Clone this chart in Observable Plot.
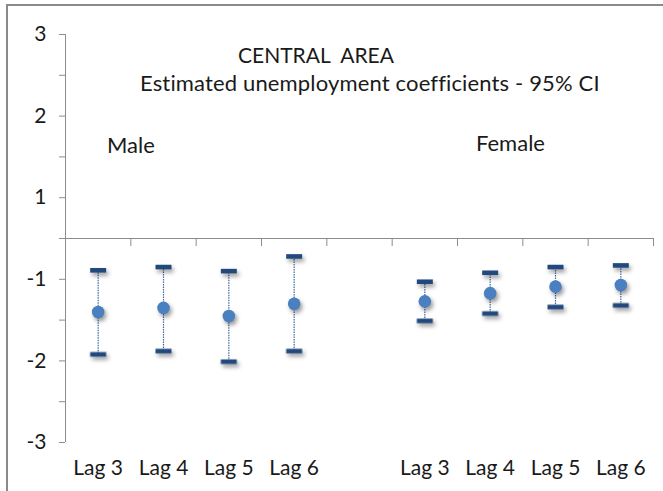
<!DOCTYPE html>
<html>
<head>
<meta charset="utf-8">
<script src="https://cdn.jsdelivr.net/npm/d3@7"></script>
<script src="https://cdn.jsdelivr.net/npm/@observablehq/plot@0.6"></script>
<style>
  html, body { margin: 0; padding: 0; background: #fff; }
  #wrap { position: relative; width: 663px; height: 491px; overflow: hidden; font-family: Lato, "Open Sans", sans-serif; color: #222; }
  #border { position: absolute; left: 6px; top: 4px; width: 700px; height: 600px; border-left: 2px solid #8a8a8a; border-top: 2px solid #8a8a8a; }
  #chart { position: absolute; left: 0; top: 0; }
  .lbl { position: absolute; white-space: pre; line-height: 1; color: #1a1a1a; }
  g[aria-label="dot"] { filter: drop-shadow(2px 3px 2px rgba(0,0,0,0.4)); }
</style>
</head>
<body>
<div id="wrap">
  <div id="border"></div>
  <div id="chart"></div>
  <div class="lbl" style="left:238px; top:44px; font-size:21px;">CENTRAL  AREA</div>
  <div class="lbl" style="left:140px; top:72px; font-size:22px; letter-spacing:0.15px;">Estimated unemployment coefficients - 95% CI</div>
  <div class="lbl" style="left:107px; top:134px; font-size:22px;">Male</div>
  <div class="lbl" style="left:476px; top:132px; font-size:22px;">Female</div>
</div>
<script>
// Categories along the x axis (blank slot separates the two groups)
const categories = ["Lag 3", "Lag 4", "Lag 5", "Lag 6", "", "Lag 3", "Lag 4", "Lag 5", "Lag 6"];
const groups = ["Male", "Male", "Male", "Male", null, "Female", "Female", "Female", "Female"];
// Estimated coefficients and 95% CI bounds (as read on the labelled axis)
const estimate = [-1.40, -1.35, -1.45, -1.30, null, -1.27, -1.17, -1.09, -1.07];
const upper    = [-0.89, -0.85, -0.90, -0.72, null, -1.03, -0.92, -0.85, -0.83];
const lower    = [-1.92, -1.88, -2.01, -1.88, null, -1.51, -1.42, -1.34, -1.32];
// Y axis tick labels (the chart's axis skips the band between -1 and 1)
const yTickValues = [-2.5, -2, -1.5, -1, -0.5, 0, 0.5, 1, 1.5, 2, 2.5];
const yTickLabels = ["-3", "", "-2", "", "-1", "", "1", "", "2", "", "3"];

// Labelled value -> position on the compressed axis
const toAxis = v => v < 0 ? v + 0.5 : v - 0.5;

const rows = categories.map((c, i) => ({
  idx: i + 0.5, cat: c, group: groups[i],
  est: estimate[i], hi: upper[i], lo: lower[i]
})).filter(d => d.est !== null);

const boundaries = d3.range(0, categories.length + 1);
const centers = categories.map((c, i) => i + 0.5);

const capSymbol = { draw(ctx) { ctx.rect(-8, -2.3, 16, 4.6); } };

const plot = Plot.plot({
  width: 663,
  height: 491,
  marginLeft: 65,
  marginRight: 10,
  marginTop: 34,
  marginBottom: 49,
  style: { fontFamily: "Lato, 'Open Sans', sans-serif", fontSize: "21px", color: "#1a1a1a", background: "transparent" },
  x: { type: "linear", domain: [0, categories.length], axis: null },
  y: { type: "linear", domain: [-2.5, 2.5], axis: null },
  marks: [
    // y axis
    Plot.axisY({
      ticks: yTickValues,
      tickFormat: (d) => yTickLabels[yTickValues.indexOf(d)],
      tickSize: 6, tickPadding: 13, stroke: "#8c8c8c", fontSize: 21, label: null
    }),
    Plot.ruleX([0], { stroke: "#8c8c8c" }),
    // horizontal axis line at the axis origin
    Plot.ruleY([0], { stroke: "#8c8c8c" }),
    // category boundary ticks
    Plot.axisX({
      anchor: "bottom", ticks: boundaries, tickFormat: () => "",
      tickSize: 8, dy: -204, stroke: "#8c8c8c", label: null
    }),
    // category labels
    Plot.axisX({
      anchor: "bottom", ticks: centers,
      tickFormat: (d) => categories[Math.floor(d)],
      tickSize: 0, tickPadding: 18, fontSize: 21, label: null
    }),
    // CI lines
    Plot.ruleX(rows, {
      x: "idx", y1: d => toAxis(d.lo), y2: d => toAxis(d.hi),
      stroke: "#3b68a3", strokeWidth: 1.2, strokeDasharray: "1.5,1"
    }),
    // CI caps
    Plot.dot(rows, { x: "idx", y: d => toAxis(d.hi), symbol: capSymbol, fill: "#22497e", stroke: "none" }),
    Plot.dot(rows, { x: "idx", y: d => toAxis(d.lo), symbol: capSymbol, fill: "#22497e", stroke: "none" }),
    // estimates
    Plot.dot(rows, { x: "idx", y: d => toAxis(d.est), r: 6.3, fill: "#4a7fc0", stroke: "none" })
  ]
});
document.getElementById("chart").appendChild(plot);
</script>
</body>
</html>
